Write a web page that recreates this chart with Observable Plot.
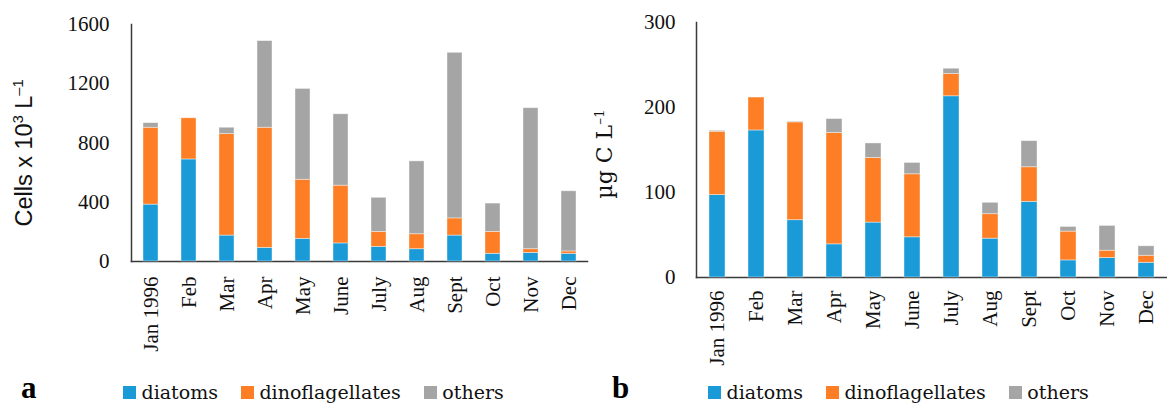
<!DOCTYPE html>
<html><head><meta charset="utf-8">
<script src="https://cdn.jsdelivr.net/npm/d3@7"></script>
<script src="https://cdn.jsdelivr.net/npm/@observablehq/plot@0.6"></script>
<style>
html,body{margin:0;padding:0;background:#fff;}
#wrap{position:relative;width:1167px;height:405px;overflow:hidden;background:#fff;}
.chart{position:absolute;top:0;}
.chart svg text{fill:#111;}
.chart svg [aria-label="frame"]{stroke-width:1.5;}
.ytitle{position:absolute;white-space:nowrap;line-height:1;transform:translate(-50%,-50%) rotate(-90deg);color:#111;}
.ytitle sup{font-size:0.62em;line-height:0;vertical-align:0.62em;}
.legend{position:absolute;font-family:"DejaVu Serif",serif;font-size:19px;line-height:1;white-space:nowrap;color:#111;}
.legend .item{display:inline-block;margin-right:23px;}
.legend .sw{display:inline-block;width:13px;height:13px;margin-right:5.5px;}
.panel{position:absolute;font-family:"Liberation Serif",serif;font-weight:bold;font-size:31px;line-height:1;color:#000;}
</style></head><body><div id="wrap"></div>
<script>
const months = ["Jan 1996","Feb","Mar","Apr","May","June","July","Aug","Sept","Oct","Nov","Dec"];
const seriesNames = ["diatoms","dinoflagellates","others"];
const seriesColors = ["#1a9bd7","#fd7e24","#a5a5a5"];

// panel a: cells x 10^3 L^-1
const cellsDiatoms = [384, 689, 175, 92, 153, 122, 99, 83, 175, 52, 58, 52];
const cellsDino    = [519, 278, 685, 811, 399, 390, 101, 101, 116, 148, 25, 16];
const cellsOthers  = [31, 0, 43, 585, 613, 482, 230, 492, 1118, 191, 952, 406];
const cellsTicks   = [0, 400, 800, 1200, 1600];

// panel b: ug C L^-1
const carbonDiatoms = [97, 173, 67.4, 39, 64.6, 47.3, 213.2, 45.7, 89, 20.1, 22.9, 17.3];
const carbonDino    = [74.5, 38.7, 115.1, 131, 76.1, 74.1, 26.1, 28.8, 40.7, 33.9, 8.6, 8.3];
const carbonOthers  = [1.1, 0, 0.8, 16.4, 17, 13.4, 6.3, 13.4, 30.7, 5.5, 29.2, 11.1];
const carbonTicks   = [0, 100, 200, 300];

function rowsOf(series) {
  const rows = [];
  months.forEach((m, i) => seriesNames.forEach((s, j) => rows.push({month: m, group: s, value: series[j][i]})));
  return rows;
}

function chart(o) {
  return Plot.plot({
    width: o.width, height: o.height,
    marginLeft: o.mL, marginRight: o.mR, marginTop: o.mT, marginBottom: o.mB,
    style: {fontFamily: '"Liberation Serif", serif', fontSize: "21px", color: "#3a3a3a", background: "transparent", overflow: "visible"},
    x: {domain: months, paddingInner: o.pad, paddingOuter: o.pad / 2, label: null, tickSize: 0, tickRotate: -90, tickPadding: o.xPad, line: true},
    y: {domain: [0, o.ticks[o.ticks.length - 1]], ticks: o.ticks, tickFormat: d => String(d), label: null, tickSize: 0, tickPadding: o.yPad, line: true},
    color: {domain: seriesNames, range: seriesColors},
    marks: [
      Plot.barY(rowsOf(o.series), {x: "month", y: "value", fill: "group", stroke: "white", strokeWidth: 0.8, strokeOpacity: 0.5})
    ]
  });
}

const wrap = document.getElementById("wrap");

const a = chart({width: 590, height: 365, mL: 131, mR: 3, mT: 24, mB: 104, pad: 0.61, xPad: 15, yPad: 22,
  ticks: cellsTicks, series: [cellsDiatoms, cellsDino, cellsOthers]});
const da = document.createElement("div"); da.className = "chart"; da.style.left = "0px"; da.appendChild(a); wrap.appendChild(da);

const b = chart({width: 577, height: 370, mL: 106, mR: 0, mT: 22, mB: 93, pad: 0.6, xPad: 13, yPad: 21,
  ticks: carbonTicks, series: [carbonDiatoms, carbonDino, carbonOthers]});
const db = document.createElement("div"); db.className = "chart"; db.style.left = "590px"; db.appendChild(b); wrap.appendChild(db);

function addHTML(html) { const t = document.createElement("div"); t.innerHTML = html; const el = t.firstElementChild; wrap.appendChild(el); return el; }

addHTML('<div class="ytitle" style="left:25px;top:153px;font-family:\'Liberation Sans\',sans-serif;font-size:23.5px;">Cells x 10<sup>3</sup> L<sup>–1</sup></div>');
addHTML('<div class="ytitle" style="left:605px;top:154px;font-family:\'DejaVu Serif\',serif;font-size:22px;">µg C L<sup>–1</sup></div>');

function legendHTML(left, top) {
  return '<div class="legend" style="left:' + left + 'px;top:' + top + 'px;">' +
    seriesNames.map((s, i) => '<span class="item"><span class="sw" style="background:' + seriesColors[i] + '"></span>' + s + '</span>').join("") +
    '</div>';
}
addHTML('<div class="panel" style="left:21px;top:372px;">a</div>');
addHTML(legendHTML(123, 383));
addHTML('<div class="panel" style="left:612px;top:372px;">b</div>');
addHTML(legendHTML(708, 383));
</script></body></html>
